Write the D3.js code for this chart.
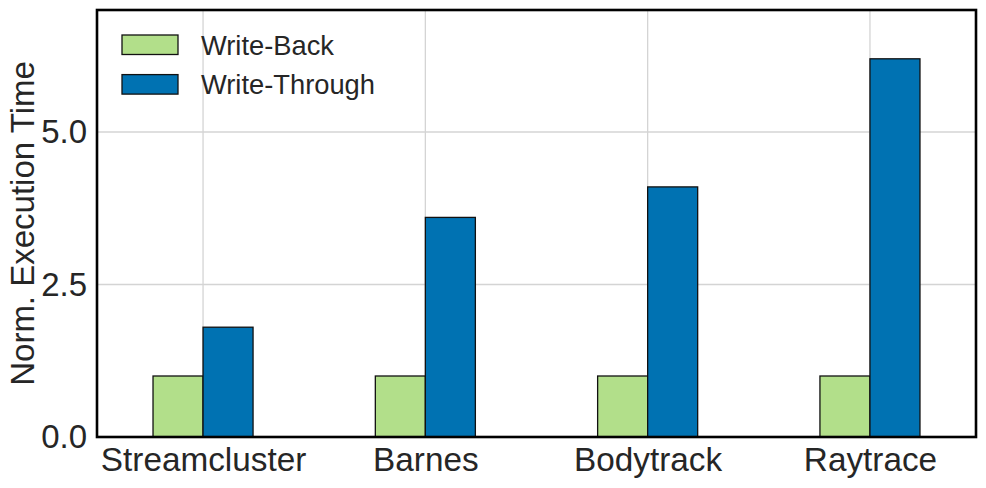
<!DOCTYPE html>
<html>
<head>
<meta charset="utf-8">
<script src="https://cdn.jsdelivr.net/npm/d3@7"></script>
<style>
  body { margin: 0; background: #fff; }
  text { font-family: "Liberation Sans", Arial, sans-serif; fill: #262626; }
</style>
</head>
<body>
<svg id="chart" width="986" height="488"></svg>
<script>
// data
var benchmarks = ["Streamcluster", "Barnes", "Bodytrack", "Raytrace"];
var seriesNames = ["Write-Back", "Write-Through"];
var writeBack = [1.0, 1.0, 1.0, 1.0];
var writeThrough = [1.8, 3.6, 4.1, 6.2];
var yTicks = [0, 2.5, 5.0];
var colors = ["#b2df8a", "#0072b2"];

var svg = d3.select("#chart");
var margin = {top: 10, right: 10, bottom: 51, left: 97};
var width = +svg.attr("width") - margin.left - margin.right,
    height = +svg.attr("height") - margin.top - margin.bottom;

// linear x like matplotlib: categories at 0..3
var x = d3.scaleLinear().domain([-0.477, 3.477]).range([0, width]);
var y = d3.scaleLinear().domain([0, 7.0]).range([height, 0]);
var barW = 0.225;

var g = svg.append("g")
    .attr("transform", "translate(" + margin.left + "," + margin.top + ")");

// grid
g.append("g").selectAll("line.h")
    .data(yTicks).enter().append("line")
    .attr("x1", 0).attr("x2", width)
    .attr("y1", function(d) { return y(d); })
    .attr("y2", function(d) { return y(d); })
    .attr("stroke", "#d4d4d4").attr("stroke-width", 1.3);

g.append("g").selectAll("line.v")
    .data(benchmarks).enter().append("line")
    .attr("x1", function(d, i) { return x(i); })
    .attr("x2", function(d, i) { return x(i); })
    .attr("y1", 0).attr("y2", height)
    .attr("stroke", "#d4d4d4").attr("stroke-width", 1.3);

// bars
var series = [writeBack, writeThrough];
series.forEach(function(vals, s) {
  g.append("g").selectAll("rect")
    .data(vals).enter().append("rect")
    .attr("x", function(d, i) { return x(i + (s - 1) * barW); })
    .attr("width", x(barW) - x(0))
    .attr("y", function(d) { return y(d); })
    .attr("height", function(d) { return height - y(d); })
    .attr("fill", colors[s])
    .attr("stroke", "#111")
    .attr("stroke-width", 1.3);
});

// frame
g.append("rect")
    .attr("width", width).attr("height", height)
    .attr("fill", "none").attr("stroke", "#000").attr("stroke-width", 2.6);

// axes
var yAxis = d3.axisLeft(y).tickValues(yTicks).tickFormat(d3.format(".1f")).tickSize(0).tickPadding(10);
var yg = g.append("g").call(yAxis);
yg.select(".domain").remove();
yg.selectAll("text").style("font-size", "33px").attr("fill", "#262626");

var xAxis = d3.axisBottom(x).tickValues(d3.range(benchmarks.length))
    .tickFormat(function(i) { return benchmarks[i]; }).tickSize(0).tickPadding(10);
var xg = g.append("g").attr("transform", "translate(0," + height + ")").call(xAxis);
xg.select(".domain").remove();
xg.selectAll("text").style("font-size", "33.3px").attr("fill", "#262626");

svg.append("text")
    .attr("transform", "translate(34," + (margin.top + height / 2) + ") rotate(-90)")
    .attr("text-anchor", "middle")
    .style("font-size", "33px")
    .text("Norm. Execution Time");

// legend
var legend = g.append("g").attr("transform", "translate(25,25)");
seriesNames.forEach(function(name, i) {
  var row = legend.append("g").attr("transform", "translate(0," + (i * 39.6) + ")");
  row.append("rect")
    .attr("width", 56).attr("height", 19.5)
    .attr("fill", colors[i]).attr("stroke", "#111").attr("stroke-width", 1.3);
  row.append("text")
    .attr("x", 79).attr("y", 19.5)
    .style("font-size", "27.3px")
    .text(name);
});
</script>
</body>
</html>
